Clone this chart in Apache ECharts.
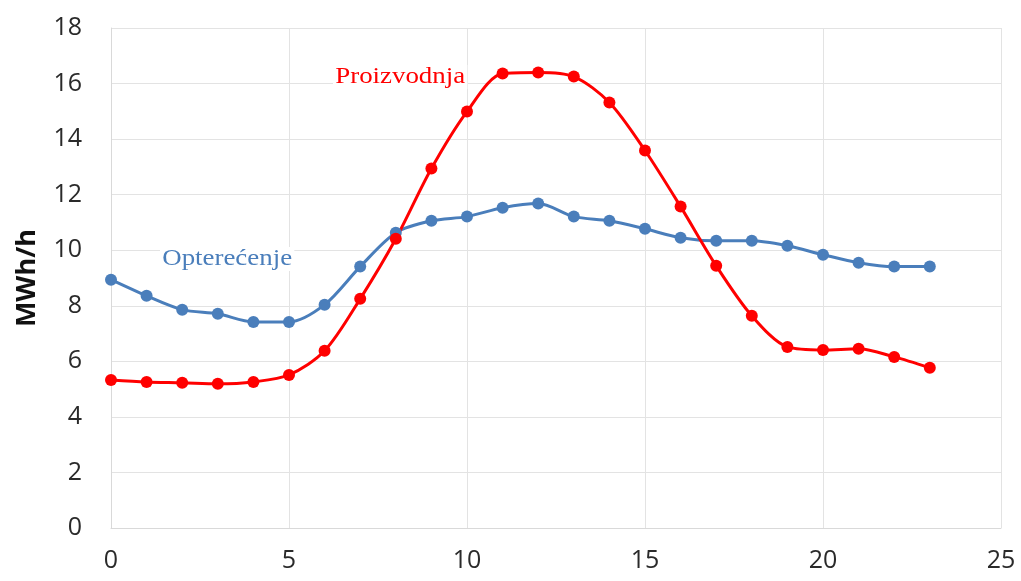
<!DOCTYPE html>
<html>
<head>
<meta charset="utf-8">
<script src="https://cdn.jsdelivr.net/npm/echarts@6/dist/echarts.min.js"></script>
<style>html,body{margin:0;padding:0;background:#fff;}#c{width:1021px;height:581px;}</style>
</head>
<body>
<div id="c"></div>
<script>
const hours = [0,1,2,3,4,5,6,7,8,9,10,11,12,13,14,15,16,17,18,19,20,21,22,23];
const opterecenje = [8.94,8.36,7.86,7.71,7.42,7.42,8.04,9.41,10.63,11.06,11.21,11.53,11.68,11.21,11.06,10.77,10.45,10.34,10.34,10.16,9.84,9.55,9.41,9.41];
const proizvodnja = [5.33,5.26,5.23,5.19,5.26,5.51,6.38,8.25,10.41,12.94,14.99,16.36,16.40,16.25,15.32,13.59,11.57,9.44,7.64,6.52,6.41,6.45,6.16,5.77];
const xTicks = [0,5,10,15,20,25];
const yTicks = [0,2,4,6,8,10,12,14,16,18];

const chart = echarts.init(document.getElementById('c'));
const pair = arr => hours.map((h,i)=>[h,arr[i]]);
chart.setOption({
  animation:false,
  grid:{left:111,right:20,top:28,bottom:53,containLabel:false,outerBoundsMode:'none'},
  xAxis:{type:'value',min:xTicks[0],max:xTicks[xTicks.length-1],interval:5,
    axisLine:{show:true,lineStyle:{color:'#d9d9d9',width:1}},axisTick:{show:false},
    axisLabel:{color:'#2a2a2a',fontSize:25,fontFamily:'Open Sans',margin:20},
    splitLine:{show:true,lineStyle:{color:'#e3e3e3',width:1}}},
  yAxis:{type:'value',min:yTicks[0],max:yTicks[yTicks.length-1],interval:2,
    name:'MWh/h',nameLocation:'middle',nameGap:70,
    nameTextStyle:{color:'#111',fontSize:27,fontWeight:'bold',fontFamily:'Open Sans'},
    axisLine:{show:true,lineStyle:{color:'#d9d9d9',width:1}},axisTick:{show:false},
    axisLabel:{color:'#2a2a2a',fontSize:25,fontFamily:'Open Sans',margin:29},
    splitLine:{show:true,lineStyle:{color:'#e3e3e3',width:1}}},
  series:[
    {name:'Opterećenje',type:'line',smooth:0.3,data:pair(opterecenje),
      symbol:'circle',symbolSize:12,lineStyle:{color:'#4a7ebb',width:3},itemStyle:{color:'#4a7ebb'}},
    {name:'Proizvodnja',type:'line',smooth:0.3,data:pair(proizvodnja),
      symbol:'circle',symbolSize:12,lineStyle:{color:'#ff0000',width:3},itemStyle:{color:'#ff0000'}}
  ],
  graphic:[
    {type:'text',x:333,y:77,scaleX:1.12,z:100,style:{text:'Proizvodnja',fill:'#ff0000',font:'24px "Liberation Serif"',verticalAlign:'middle',backgroundColor:'#fff',padding:[0,2]}},
    {type:'text',x:160,y:259,scaleX:1.12,z:100,style:{text:'Opterećenje',fill:'#4a7ebb',font:'24px "Liberation Serif"',verticalAlign:'middle',backgroundColor:'#fff',padding:[0,2]}}
  ]
});
</script>
</body>
</html>
